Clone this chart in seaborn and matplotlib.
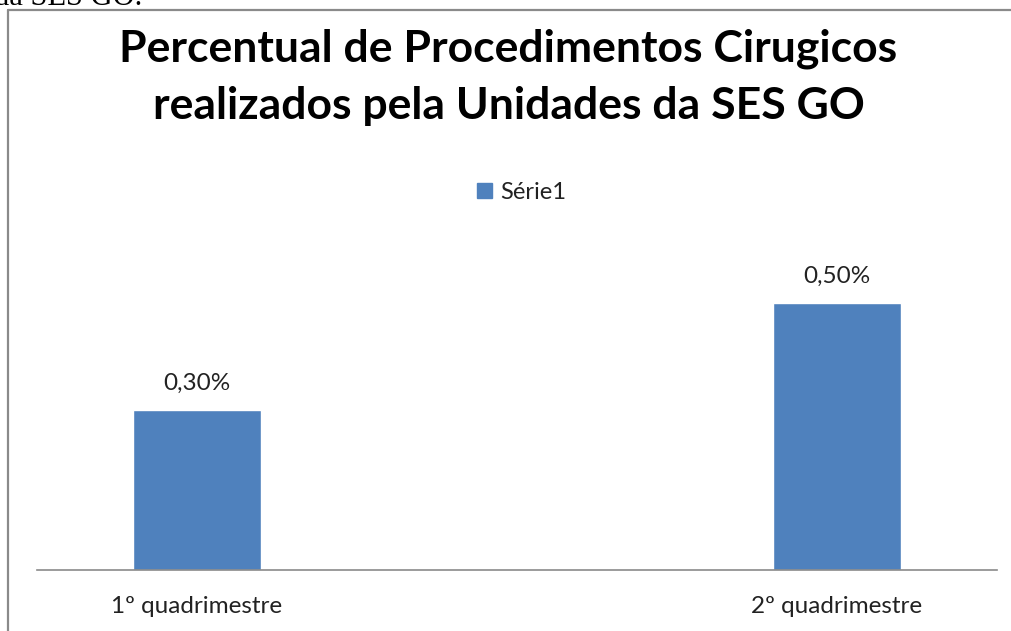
import matplotlib
matplotlib.use("Agg")
import matplotlib.pyplot as plt
from matplotlib.lines import Line2D
import seaborn as sns
import pandas as pd

# dados do grafico
categorias = ['1º quadrimestre', '2º quadrimestre']
valores = [0.30, 0.50]
rotulos = ['0,30%', '0,50%']
serie = 'Série1'
titulo = 'Percentual de Procedimentos Cirugicos\nrealizados pela Unidades da SES GO'

df = pd.DataFrame({'periodo': categorias, 'valor': valores, 'serie': serie})

sns.set_theme(style="white")
plt.rcParams['font.family'] = ['Lato', 'DejaVu Sans']

fig = plt.figure(figsize=(10.11, 6.31), dpi=100)
ax = fig.add_axes([0.0366, 0.0967, 0.9496, 0.507])

sns.barplot(data=df, x='periodo', y='valor', hue='serie', palette=['#4F81BD'],
            width=0.2, ax=ax, legend=False, saturation=1)

ax.set_xlim(-0.25, 1.25)
ax.set_ylim(0, 0.6)
ax.set_xlabel('')
ax.set_ylabel('')
ax.set_yticks([])
ax.tick_params(axis='x', length=0, pad=19, labelsize=17.5, labelcolor='#222222')
for s in ['top', 'left', 'right']:
    ax.spines[s].set_visible(False)
ax.spines['bottom'].set_color('#8a8a8a')
ax.spines['bottom'].set_linewidth(1.2)

# rotulos de dados
for p, txt in zip(ax.patches, rotulos):
    ax.annotate(txt, (p.get_x() + p.get_width() / 2., p.get_height()),
                ha='center', va='bottom', xytext=(0, 12), textcoords='offset points',
                fontsize=17.5, color='#222222')

# titulo
fig.text(0.503, 0.878, titulo, ha='center', va='center', fontsize=32,
         fontweight='bold', color='black', linespacing=1.52)

# legenda
handle = plt.Rectangle((0, 0), 1, 1, color='#4F81BD')
fig.legend([handle], [serie], loc='center', bbox_to_anchor=(0.516, 0.695),
           frameon=False, fontsize=17, handlelength=0.6, handleheight=0.6,
           handletextpad=0.35, labelcolor='#222222')

# moldura e texto cortado do documento
fig.add_artist(Line2D([8 / 1011, 8 / 1011], [0, 1 - 10 / 631], color='#8a8a8a', lw=1.6))
fig.add_artist(Line2D([8 / 1011, 1], [1 - 10 / 631, 1 - 10 / 631], color='#8a8a8a', lw=1.6))
fig.text(-0.006, 1 - 5 / 631, 'da SES GO.', ha='left', va='baseline',
         fontsize=22, family='Liberation Serif', color='black')

fig.savefig('out.png', dpi=100)
plt.close()
